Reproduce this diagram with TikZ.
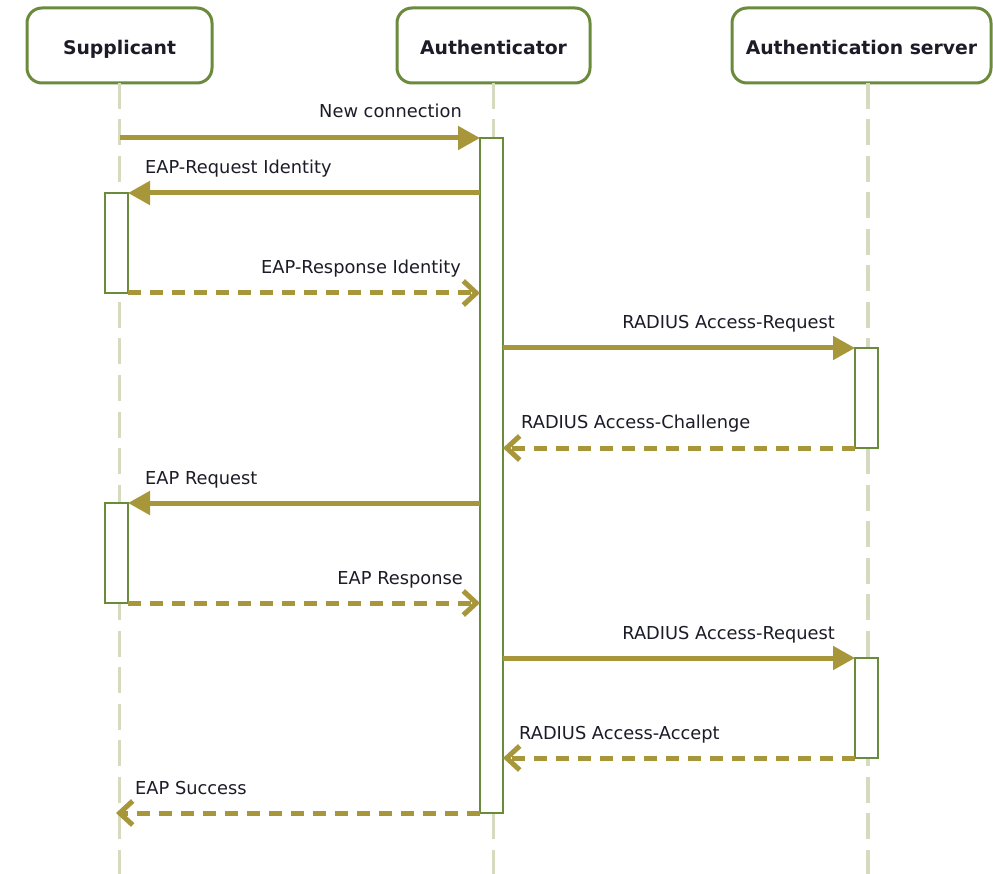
\documentclass[tikz,border=0pt]{standalone}
\usepackage{fontspec}
\setmainfont{DejaVu Sans}
\usetikzlibrary{arrows.meta}
\definecolor{boxgreen}{HTML}{6A8B3C}
\definecolor{msgcol}{HTML}{A8963A}
\definecolor{lifecol}{HTML}{D6DBC0}
\definecolor{txtcol}{HTML}{1C1C28}
\tikzset{
  actor/.style={draw=boxgreen, line width=3pt, rounded corners=15pt, fill=white,
    minimum height=75pt, text height=21pt, text depth=3pt, inner sep=0pt, outer sep=0pt,
    font=\fontsize{18.8}{22}\selectfont\bfseries, text=txtcol},
  lifeline/.style={draw=lifecol, line width=3.2pt, dash pattern=on 26pt off 10.5pt},
  actbar/.style={draw=boxgreen, line width=2.8pt, fill=white, minimum width=23pt,
    inner sep=0pt, outer sep=0pt},
  msg/.style={draw=msgcol, line width=5pt, -{Triangle[length=22pt,width=23pt]}},
  ret/.style={draw=msgcol, line width=5pt, dash pattern=on 13pt off 9pt,
    -{Straight Barb[length=13pt,width=24pt]}},
  lbl/.style={font=\fontsize{17.8}{21}\selectfont, text=txtcol, inner sep=0pt}
}
\begin{document}
\begin{tikzpicture}[x=1pt,y=-1pt]
\useasboundingbox (0,0) rectangle (993,874);
\fill[white] (0,0) rectangle (993,874);

% header boxes
\node[actor, minimum width=185pt] (sup) at (119.5,45.5) {Supplicant};
\node[actor, minimum width=193pt] (auth) at (493.5,45.5) {Authenticator};
\node[actor, minimum width=259pt] (srv) at (861.5,45.5) {Authentication server};

% lifeline ends
\coordinate (supEnd) at (119.5,874);
\coordinate (authEnd) at (493.5,874);
\coordinate (srvEnd) at (868,874);

\draw[lifeline] (sup.south) -- (supEnd);
\draw[lifeline] (auth.south) -- (authEnd);
\draw[lifeline] (srv.south -| srvEnd) -- (srvEnd);

% activation bars
\node[actbar, minimum height=675pt] (aA) at (491.5,475.5) {};
\node[actbar, minimum height=100pt] (s1) at (116.5,243) {};
\node[actbar, minimum height=100pt] (s2) at (116.5,553) {};
\node[actbar, minimum height=100pt] (v1) at (866.5,398) {};
\node[actbar, minimum height=100pt] (v2) at (866.5,708) {};

% free ends
\coordinate (m1s) at (119.5,138);
\coordinate (m10e) at (116,813);

% messages
\draw[msg] (m1s) -- (aA.north west);
\draw[msg] (aA.west |- s1.north) -- (s1.north east);
\draw[ret] (s1.south east) -- (aA.west |- s1.south);
\draw[msg] (aA.east |- v1.north) -- (v1.north west);
\draw[ret] (v1.south west) -- (aA.east |- v1.south);
\draw[msg] (aA.west |- s2.north) -- (s2.north east);
\draw[ret] (s2.south east) -- (aA.west |- s2.south);
\draw[msg] (aA.east |- v2.north) -- (v2.north west);
\draw[ret] (v2.south west) -- (aA.east |- v2.south);
\draw[ret] (aA.south west) -- (m10e);

% labels
\node[lbl, anchor=base east] (l1) at (462,118) {New connection};
\node[lbl, anchor=base west] (l2) at (145,174) {EAP-Request Identity};
\node[lbl, anchor=base east] (l3) at (461,274) {EAP-Response Identity};
\node[lbl, anchor=base east] (l4) at (835,329) {RADIUS Access-Request};
\node[lbl, anchor=base west] (l5) at (521,428) {RADIUS Access-Challenge};
\node[lbl, anchor=base west] (l6) at (145,484) {EAP Request};
\node[lbl, anchor=base east] (l7) at (463,584) {EAP Response};
\node[lbl, anchor=base east] (l8) at (835,639) {RADIUS Access-Request};
\node[lbl, anchor=base west] (l9) at (519,739) {RADIUS Access-Accept};
\node[lbl, anchor=base west] (l10) at (135,794) {EAP Success};
\end{tikzpicture}
\end{document}
